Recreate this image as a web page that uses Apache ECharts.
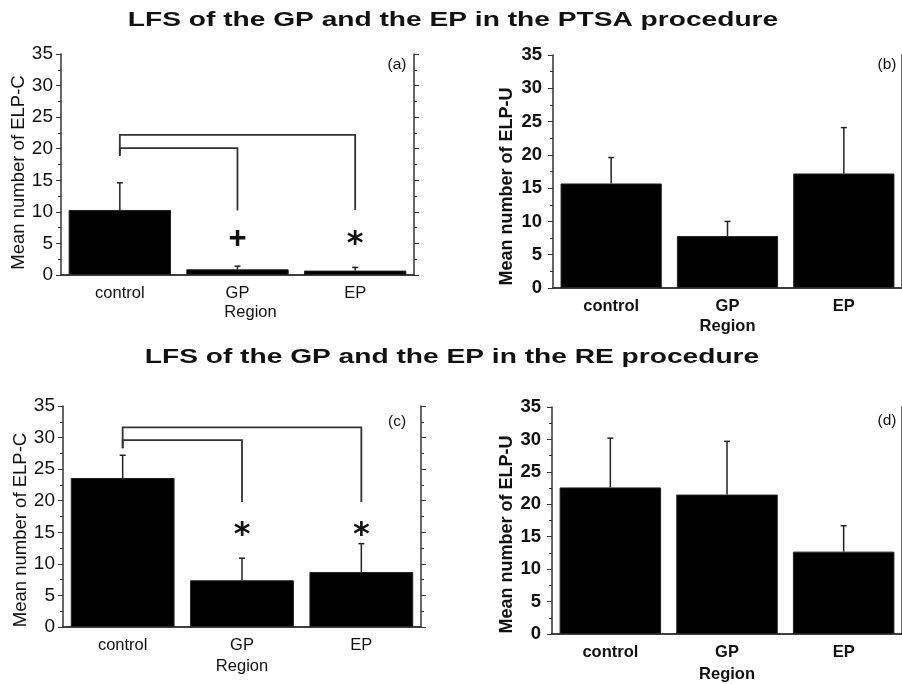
<!DOCTYPE html>
<html><head><meta charset="utf-8">
<script src="https://cdn.jsdelivr.net/npm/echarts@6/dist/echarts.min.js"></script>
<style>html,body{margin:0;padding:0;background:#fff}#c{width:902px;height:684px}</style>
</head><body><div id="c"></div>
<script>
// ---- data ----
const categories = ['control', 'GP', 'EP'];
const meanA = [10.3, 0.9, 0.7];
const upperA = [14.6, 1.4, 1.2];
const meanB = [15.7, 7.8, 17.2];
const upperB = [19.6, 10.0, 24.1];
const meanC = [23.6, 7.4, 8.7];
const upperC = [27.2, 10.9, 13.2];
const meanD = [22.6, 21.5, 12.7];
const upperD = [30.2, 29.7, 16.7];
// brackets: [fromCat, toCat, topY, leftEndY, rightEndY]
const bracketsA = [[0, 1, 20.1, 18.9, 10.2], [0, 2, 22.2, 18.9, 10.3]];
const bracketsC = [[0, 1, 29.6, 28.3, 19.8], [0, 2, 31.6, 28.3, 19.8]];
// significance marks: [cat, y]
const marksA = [[1, 5.7], [2, 5.7]];
const marksASym = ['+', '*'];
const marksC = [[1, 15.4], [2, 15.4]];
const marksCSym = ['*', '*'];
const yMin = 0, yMax = 35, yStep = 5;
const titleTop = 'LFS of the GP and the EP in the PTSA procedure';
const titleBottom = 'LFS of the GP and the EP in the RE procedure';
const yNameC = 'Mean number of ELP-C';
const yNameU = 'Mean number of ELP-U';
const xName = 'Region';
const panelTags = ['(a)', '(b)', '(c)', '(d)'];

// ---- layout ----
const FONT = '"Liberation Sans", Arial, Helvetica, sans-serif';
const AX = '#333';
const panels = [
  {grid: {left: 61, top: 54, width: 353, height: 221}, mean: meanA, upper: upperA, bold: false,
   yName: yNameC, yGap: 30, yPad: [0, 16, 0, 0], yFs: 18.5, xGap: 29, xPad: [0, 0, 0, 26],
   brackets: bracketsA, marks: marksA, sym: marksASym, tag: [397, 65]},
  {grid: {left: 553, top: 55, width: 352, height: 233}, mean: meanB, upper: upperB, bold: true,
   yName: yNameU, yGap: 37, yPad: [0, 30, 0, 0], yFs: 18, xGap: 30, xPad: 0,
   tag: [887, 65]},
  {grid: {left: 63, top: 406, width: 358, height: 221}, mean: meanC, upper: upperC, bold: false,
   yName: yNameC, yGap: 33, yPad: [0, 27, 0, 0], yFs: 18.5, xGap: 31, xPad: 0,
   brackets: bracketsC, marks: marksC, sym: marksCSym, tag: [397, 422]},
  {grid: {left: 552, top: 407, width: 350, height: 228}, mean: meanD, upper: upperD, bold: true,
   yName: yNameU, yGap: 36, yPad: [0, 28, 0, 0], yFs: 18, xGap: 32, xPad: 0,
   tag: [887, 421]}
];

const grids = [], xAxes = [], yAxes = [], series = [];
panels.forEach((p, gi) => {
  grids.push(Object.assign({containLabel: false}, p.grid));
  const fw = p.bold ? 'bold' : 'normal';
  xAxes.push({
    type: 'category', gridIndex: gi, data: categories, position: 'bottom',
    name: xName, nameLocation: 'middle', nameGap: p.xGap,
    nameTextStyle: {fontFamily: FONT, fontSize: 16.5, fontWeight: fw, color: '#111', padding: p.xPad},
    axisLine: {lineStyle: {color: AX, width: 1.5}},
    axisTick: {alignWithLabel: true, length: 3, lineStyle: {color: AX}},
    axisLabel: {fontFamily: FONT, fontSize: 16.5, fontWeight: fw, color: '#111', margin: 10}
  });
  xAxes.push({
    type: 'category', gridIndex: gi, data: categories, position: 'top',
    axisLine: {lineStyle: {color: AX, width: 1.5}},
    axisTick: {alignWithLabel: true, length: 3, lineStyle: {color: AX}},
    axisLabel: {show: false}
  });
  yAxes.push({
    type: 'value', gridIndex: gi, min: yMin, max: yMax, interval: yStep, position: 'left',
    name: p.yName, nameLocation: 'middle', nameRotate: 90, nameGap: p.yGap,
    nameTextStyle: {fontFamily: FONT, fontSize: p.yFs, fontWeight: fw, color: '#111', padding: p.yPad},
    axisLine: {show: true, lineStyle: {color: AX, width: 1.5}},
    axisTick: {show: true, length: 5, lineStyle: {color: AX}},
    minorTick: {show: true, splitNumber: 2, length: 3, lineStyle: {color: AX}},
    splitLine: {show: false},
    axisLabel: {fontFamily: FONT, fontSize: p.bold ? 18.5 : 19, fontWeight: fw, color: '#111', margin: p.bold ? 11 : 8}
  });
  yAxes.push({
    type: 'value', gridIndex: gi, min: yMin, max: yMax, interval: yStep, position: 'right',
    axisLine: {show: true, lineStyle: {color: AX, width: 1.5}},
    axisTick: {show: true, length: 5, lineStyle: {color: AX}},
    minorTick: {show: true, splitNumber: 2, length: 3, lineStyle: {color: AX}},
    splitLine: {show: false},
    axisLabel: {show: false}
  });
  const xi = gi * 2, yi = gi * 2;
  series.push({
    type: 'bar', xAxisIndex: xi, yAxisIndex: yi, data: p.mean, barWidth: '87%',
    itemStyle: {color: '#000', borderColor: '#222', borderWidth: 1}, silent: true, z: 2
  });
  series.push({
    type: 'custom', xAxisIndex: xi, yAxisIndex: yi, z: 3, silent: true,
    data: categories.map((c, i) => [i, p.mean[i], p.upper[i]]),
    encode: {x: 0, y: [1, 2]},
    renderItem: (params, api) => {
      const i = api.value(0);
      const a = api.coord([i, api.value(1)]), b = api.coord([i, api.value(2)]);
      const st = {stroke: '#222', lineWidth: 1.5};
      return {type: 'group', children: [
        {type: 'line', shape: {x1: a[0], y1: a[1], x2: b[0], y2: b[1]}, style: st},
        {type: 'line', shape: {x1: b[0] - 3, y1: b[1], x2: b[0] + 3, y2: b[1]}, style: st}
      ]};
    }
  });
  if (p.brackets) {
    series.push({
      type: 'custom', xAxisIndex: xi, yAxisIndex: yi, z: 3, silent: true,
      data: p.brackets, encode: {x: [0, 1], y: [2, 3, 4]},
      renderItem: (params, api) => {
        const f = api.value(0), t = api.value(1);
        const pts = [api.coord([f, api.value(3)]), api.coord([f, api.value(2)]),
                     api.coord([t, api.value(2)]), api.coord([t, api.value(4)])];
        return {type: 'polyline', shape: {points: pts}, style: {stroke: '#333', lineWidth: 1.8, fill: null}};
      }
    });
    const sym = p.sym;
    series.push({
      type: 'custom', xAxisIndex: xi, yAxisIndex: yi, z: 4, silent: true,
      data: p.marks, encode: {x: 0, y: 1},
      renderItem: (params, api) => {
        const c = api.coord([api.value(0), api.value(1)]);
        const s = sym[params.dataIndex];
        const star = s === '*';
        return {type: 'text', x: c[0], y: c[1] + (star ? 6 : 0), style: {
          text: s, fontFamily: star ? '"DejaVu Sans", sans-serif' : FONT,
          fontSize: star ? 32 : 31, fontWeight: 'bold', fill: '#111',
          align: 'center', verticalAlign: 'middle'}};
      }
    });
  }
});

const graphic = [
  {type: 'text', x: 453, y: 20, scaleX: 1.34, style: {text: titleTop, fontFamily: FONT, fontSize: 21,
    fontWeight: 'bold', fill: '#111', align: 'center', verticalAlign: 'middle'}},
  {type: 'text', x: 452, y: 357, scaleX: 1.34, style: {text: titleBottom, fontFamily: FONT, fontSize: 21,
    fontWeight: 'bold', fill: '#111', align: 'center', verticalAlign: 'middle'}}
];
panels.forEach((p, i) => graphic.push({type: 'text', x: p.tag[0], y: p.tag[1], style: {
  text: panelTags[i], fontFamily: FONT, fontSize: 15.5, fill: '#111', align: 'center', verticalAlign: 'middle'}}));

const chart = echarts.init(document.getElementById('c'), null, {renderer: 'canvas'});
chart.setOption({
  animation: false, backgroundColor: '#fff',
  grid: grids, xAxis: xAxes, yAxis: yAxes, series: series, graphic: graphic
});
</script></body></html>
